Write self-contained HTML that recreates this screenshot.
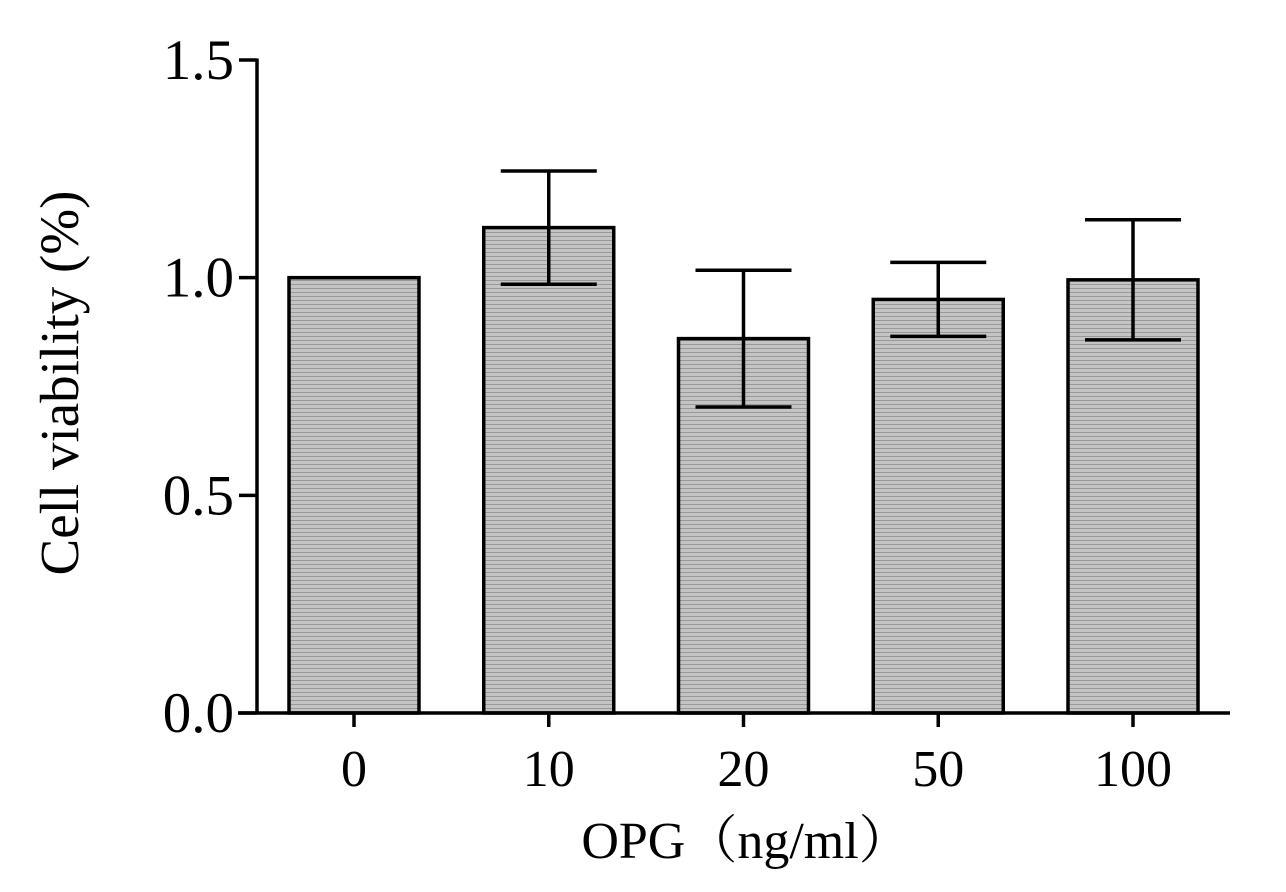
<!DOCTYPE html>
<html><head><meta charset="utf-8"><style>
body{margin:0;background:#fff}
svg{display:block}
text{font-family:"Liberation Serif","Noto Serif CJK SC",serif;fill:#000}
</style></head><body>
<svg id="chart" width="1286" height="892" viewBox="0 0 1286 892">
<defs><pattern id="hatch" width="4" height="4" patternUnits="userSpaceOnUse"><rect width="4" height="4" fill="#c4c4c4"/><rect width="4" height="1" fill="#999"/></pattern></defs>
<g id="plot"></g>
<text x="746" y="858" font-size="52" text-anchor="middle">OPG（ng/ml）</text>
<text transform="translate(78,383) rotate(-90)" font-size="55" text-anchor="middle">Cell viability (%)</text>
</svg>
<script>
const categories=["0","10","20","50","100"];
const values=[1.00,1.115,0.86,0.95,0.995];
const errors=[0,0.13,0.157,0.085,0.138];
const yTicks=[0,0.5,1.0,1.5];
const yTickLabels=["0.0","0.5","1.0","1.5"];
const NS="http://www.w3.org/2000/svg";
const g=document.getElementById('plot');
const y0=713,yTop=60,yMax=1.5;
function Y(v){return y0-(v/yMax)*(y0-yTop);}
function X(i){return 354+i*194.75;}
function mk(t,a){const e=document.createElementNS(NS,t);for(const k in a)e.setAttribute(k,a[k]);g.appendChild(e);return e;}
categories.forEach((c,i)=>{
 const r=mk('rect',{x:X(i)-65,y:Y(values[i]),width:130,height:y0-Y(values[i]),fill:'url(#hatch)',stroke:'#000','stroke-width':3.5});
 
 
 if(errors[i]>0){
  const hi=Y(values[i]+errors[i]),lo=Y(values[i]-errors[i]);
  const e=mk('path',{d:`M${X(i)} ${hi}V${lo}M${X(i)-48} ${hi}H${X(i)+48}M${X(i)-48} ${lo}H${X(i)+48}`,stroke:'#000','stroke-width':3.5,fill:'none'});
  
  
 }
 const t=mk('line',{x1:X(i),x2:X(i),y1:y0,y2:y0+14,stroke:'#000','stroke-width':3.5});
 
 
 const l=mk('text',{x:X(i),y:786,'font-size':52,'text-anchor':'middle'});
 l.textContent=c;
 
 
});
yTicks.forEach((v,i)=>{
 const t=mk('line',{x1:239,x2:257,y1:Y(v),y2:Y(v),stroke:'#000','stroke-width':3.5});
 
 
 const l=mk('text',{x:234,y:Y(v)+19,'font-size':57,'text-anchor':'end'});
 l.textContent=yTickLabels[i];
 
 
});
const ya=mk('line',{x1:257,x2:257,y1:Y(yMax)-1.5,y2:y0+1.5,stroke:'#000','stroke-width':3.5});


const xa=mk('line',{x1:238,x2:1230,y1:y0,y2:y0,stroke:'#000','stroke-width':3.5});


</script>
</body></html>
